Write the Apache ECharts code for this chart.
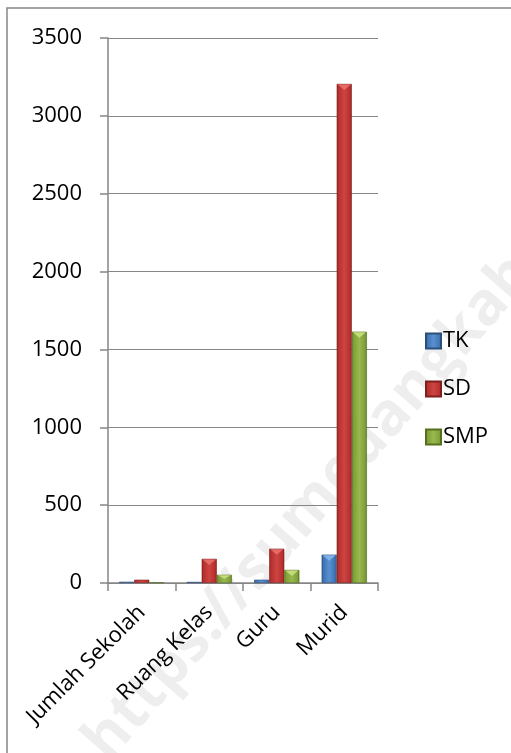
<!DOCTYPE html>
<html><head><meta charset="utf-8">
<script src="https://cdn.jsdelivr.net/npm/echarts@6/dist/echarts.min.js"></script>
<style>html,body{margin:0;padding:0;background:#fff;overflow:hidden}#c{width:511px;height:753px}</style>
</head><body><div id="c"></div>
<script>
const categories = ['Jumlah Sekolah', 'Ruang Kelas', 'Guru', 'Murid'];
const seriesNames = ['TK', 'SD', 'SMP'];
const tkValues = [8, 7, 21, 182];
const sdValues = [21, 155, 220, 3205];
const smpValues = [4, 53, 84, 1614];
const yMin = 0, yMax = 3500, yStep = 500;

const FONT = 'Open Sans';
const CAT_GAP = 0.33;
function grad(dark, base, light) {
  return new echarts.graphic.LinearGradient(0, 0, 1, 0, [
    {offset: 0, color: dark},
    {offset: 0.12, color: base},
    {offset: 0.5, color: light},
    {offset: 0.88, color: base},
    {offset: 1, color: dark}
  ]);
}
const colors = [
  grad('#2c5a8f', '#3f74b4', '#5a8fd0'),
  grad('#8e2522', '#b8302d', '#cc4542'),
  grad('#5e7a25', '#7f9f38', '#99b94f')
];
const bevel = ['#86b6ee', '#e8706c', '#c6e07e'];
const borders = ['#2a4f7c', '#7d201e', '#56701f'];
const dataSets = [tkValues, sdValues, smpValues];

const bevelData = [];
dataSets.forEach((arr, si) => arr.forEach((v, ci) => bevelData.push([ci, v, si])));

const chart = echarts.init(document.getElementById('c'), null, {renderer: 'canvas'});
const barSeries = seriesNames.map((n, i) => ({
  name: n,
  type: 'bar',
  data: dataSets[i],
  barGap: '0%',
  barCategoryGap: (CAT_GAP * 100) + '%',
  itemStyle: {color: colors[i], borderColor: borders[i], borderWidth: 0.6}
}));
chart.setOption({
  backgroundColor: '#fff',
  animation: false,
  textStyle: {fontFamily: FONT},
  graphic: [
    {type: 'text', z: -10, x: 96, y: 752, rotation: Math.PI * 48.8 / 180,
      style: {text: 'https://sumedangkab.go.id', font: 'bold 60px "Open Sans"', fill: 'rgba(0,0,0,0.065)',
        align: 'left', verticalAlign: 'middle'}},
    {type: 'rect', z: 100, shape: {x: 7, y: 8, width: 700, height: 900},
      style: {fill: 'none', stroke: '#868686', lineWidth: 1.5}}
  ],
  legend: {
    orient: 'vertical',
    left: 420,
    top: 324,
    itemWidth: 15,
    itemHeight: 15,
    itemGap: 24,
    icon: 'rect',
    textStyle: {fontFamily: FONT, fontSize: 22, color: '#000', lineHeight: 24, padding: [0, 0, 0, -3]},
    data: seriesNames
  },
  grid: {left: 108, right: 133, top: 38, bottom: 170, containLabel: false},
  xAxis: {
    type: 'category',
    data: categories,
    axisLine: {lineStyle: {color: '#868686', width: 1.5}},
    axisTick: {show: true, length: 8, lineStyle: {color: '#868686', width: 1.5}, alignWithLabel: false},
    axisLabel: {rotate: 45, fontFamily: FONT, fontSize: 22, color: '#000', margin: 26, interval: 0}
  },
  yAxis: {
    type: 'value',
    min: yMin, max: yMax, interval: yStep,
    axisLine: {show: true, lineStyle: {color: '#868686', width: 1.5}},
    axisTick: {show: true, length: 8, lineStyle: {color: '#868686', width: 1.5}},
    splitLine: {show: true, lineStyle: {color: '#868686', width: 1.2}},
    axisLabel: {fontFamily: FONT, fontSize: 22, color: '#000', margin: 26, formatter: v => String(v)}
  },
  series: barSeries.concat([{
    type: 'custom',
    name: 'bevel',
    silent: true,
    z: 3,
    data: bevelData,
    encode: {x: 0, y: 1},
    renderItem: function (params, api) {
      const ci = api.value(0), v = api.value(1), si = api.value(2);
      const base = api.coord([ci, 0]);
      const top = api.coord([ci, v]);
      const catW = api.size([1, 0])[0];
      const bw = catW * (1 - CAT_GAP) / 3;
      const x0 = base[0] - 1.5 * bw + si * bw;
      const h = base[1] - top[1];
      if (h < 5) return null;
      const d = Math.min(bw * 0.4, h / 2);
      return {
        type: 'polygon',
        shape: {points: [[x0 + 1, top[1] + 0.6], [x0 + bw - 1, top[1] + 0.6], [x0 + bw / 2, top[1] + d]]},
        style: {fill: bevel[si], opacity: 0.9}
      };
    }
  }])
});
</script>
</body></html>
